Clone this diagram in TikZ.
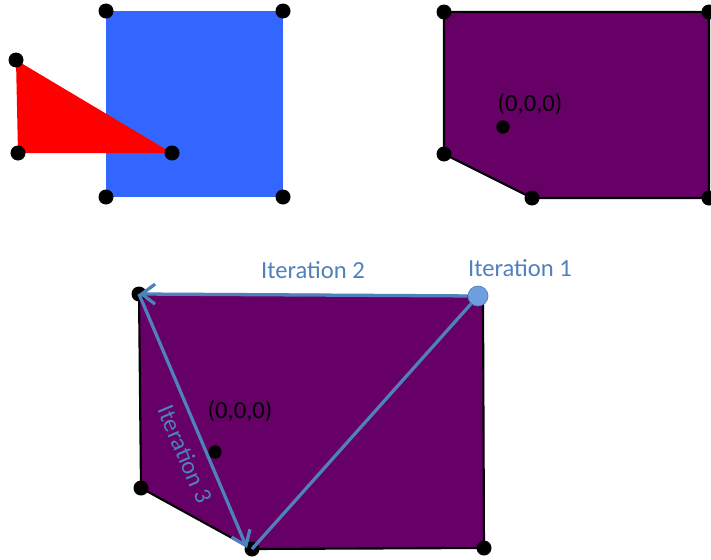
\documentclass[tikz,border=0pt]{standalone}
\usepackage{fontspec}
\setmainfont{Carlito}
\usetikzlibrary{arrows.meta}

\definecolor{sqblue}{RGB}{51,102,255}
\definecolor{hullpurple}{RGB}{102,0,102}
\definecolor{iterblue}{RGB}{79,129,189}
\definecolor{startblue}{RGB}{110,160,225}

\begin{document}
\begin{tikzpicture}[
            x=0.03cm, y=-0.03cm,
            vertex/.style={circle, fill=black, inner sep=0pt, minimum size=0.45cm},
            hull/.style={fill=hullpurple, draw=black, line width=1.8pt, line join=round},
            iter/.style={draw=iterblue, line width=2.8pt},
            itertext/.style={text=iterblue, font=\fontsize{21}{25}\selectfont},
            origin/.style={font=\fontsize{21}{25}\selectfont}
        ]
            \useasboundingbox (0,0) rectangle (711,559);
            \clip (0,0) rectangle (711,559);

            % two objects
            \coordinate (sqA) at (106,11);
            \coordinate (sqB) at (283,11);
            \coordinate (sqC) at (283,197);
            \coordinate (sqD) at (106,197);
            \coordinate (triA) at (16,60);
            \coordinate (triB) at (18,153);
            \coordinate (triC) at (172,153);
            \fill[sqblue] (sqA) -- (sqB) -- (sqC) -- (sqD) -- cycle;
            \fill[red] (triA) -- (triB) -- (triC) -- cycle;
            \foreach \p in {sqA,sqB,sqC,sqD,triA,triB,triC}
                \node[vertex] at (\p) {};

            % minkowski difference
            \coordinate (mdA) at (444,12);
            \coordinate (mdB) at (709,12);
            \coordinate (mdC) at (709,198);
            \coordinate (mdD) at (532,198);
            \coordinate (mdE) at (444,154);
            \draw[hull] (mdA) -- (mdB) -- (mdC) -- (mdD) -- (mdE) -- cycle;
            \foreach \p in {mdA,mdB,mdC,mdD,mdE}
                \node[vertex] at (\p) {};
            \node[vertex, minimum size=0.4cm] (oTop) at (503,127) {};
            \node[origin] at (530,104) {(0,0,0)};

            % iterations
            \coordinate (hA) at (139,294);
            \coordinate (hB) at (483,296);
            \coordinate (hC) at (484,548);
            \coordinate (hD) at (252,549);
            \coordinate (hE) at (141,488);
            \draw[hull] (hA) -- (hB) -- (hC) -- (hD) -- (hE) -- cycle;
            \foreach \p in {hA,hC,hD,hE}
                \node[vertex] at (\p) {};
            \node[vertex, minimum size=0.4cm] (oBot) at (215,452) {};
            \node[origin] at (240,411) {(0,0,0)};

            \node[circle, fill=startblue, draw=iterblue, line width=0.6pt,
                  inner sep=0pt, minimum size=0.6cm] (start) at (478,296) {};
            \draw[iter] (start) -- (hD);
            \draw[iter, -{Straight Barb[length=4mm, width=6mm]}] (start) -- (hA);
            \draw[iter, -{Straight Barb[length=4mm, width=6mm]}] (hA) --
                node[itertext, pos=0.6, sloped, below=5pt] {Iteration 3} (247,548);

            \node[itertext] at (313,270) {Iteration 2};
            \node[itertext] at (520,268) {Iteration 1};
        \end{tikzpicture}
\end{document}
